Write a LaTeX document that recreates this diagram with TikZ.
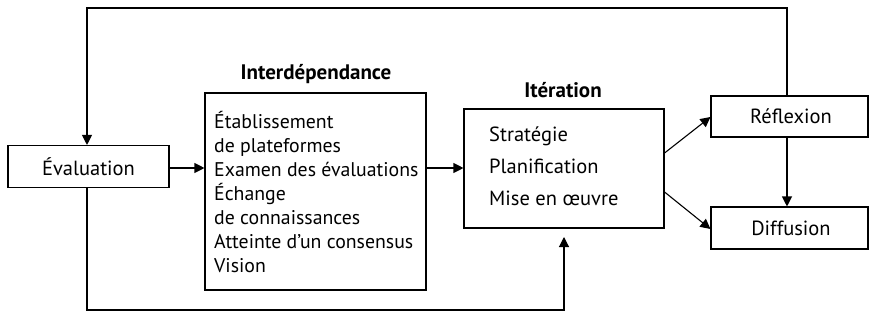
\documentclass[tikz,border=0pt]{standalone}
\usepackage{fontspec}
\setmainfont{PT Sans}
\usetikzlibrary{arrows.meta}
\tikzset{
  box/.style={draw, line width=1.1pt, inner sep=0pt},
  arr/.style={line width=1.1pt, -{Triangle[length=10pt,width=10pt]}},
  txt/.style={font=\fontsize{20.5}{24}\selectfont, inner sep=0pt},
  ttl/.style={font=\fontsize{21}{24}\selectfont\bfseries, inner sep=0pt}
}
\begin{document}
\begin{tikzpicture}[x=1pt,y=-1pt]
\useasboundingbox (0,0) rectangle (871,325);
% boxes
\node[box, minimum width=161pt, minimum height=42pt] (eval) at (88.5,166.5) {};
\node[txt] (evalt) at (88.5,166.5) {Évaluation};
\node[box, minimum width=221pt, minimum height=197pt] (inter) at (315.5,191.5) {};
\node[txt, anchor=north west, align=left, font=\fontsize{19.8}{24}\selectfont] (intert) at (214,111) {Établissement\\de plateformes\\Examen des évaluations\\Échange\\de connaissances\\Atteinte d'un consensus\\Vision};
\node[ttl] (intertitle) at (316,74) {Interdépendance};
\node[box, minimum width=200pt, minimum height=119pt] (iter) at (564,168.5) {};
\node[txt, anchor=north west, align=left, font=\fontsize{20.5}{32}\selectfont] (itert) at (489,127) {Stratégie\\Planification\\Mise en œuvre};
\node[ttl] (itertitle) at (563,90) {Itération};
\node[box, minimum width=157pt, minimum height=41pt] (refl) at (789.5,116.5) {};
\node[txt] (reflt) at (791,116.5) {Réflexion};
\node[box, minimum width=157pt, minimum height=42pt] (diff) at (789.5,228) {};
\node[txt] (difft) at (791,228) {Diffusion};
% coordinates
\coordinate (tr) at (787,8);
\coordinate (tl) at (87,8);
\coordinate (bl) at (87,310);
\coordinate (br) at (564,310);
\coordinate (bend) at (564,237);
\coordinate (ha) at (0,168);
% connectors
\draw[arr] (eval.east |- ha) -- (inter.west |- ha);
\draw[arr] (inter.east |- ha) -- (iter.west |- ha);
\draw[arr] (iter.east |- 0,153) -- (refl.west |- 0,117);
\draw[arr] (iter.east |- 0,192) -- (diff.west |- 0,229);
\draw[arr] (refl.south -| tr) -- (diff.north -| tr);
\draw[arr] (refl.north -| tr) -- (tr) -- (tl) -- (eval.north -| tl);
\draw[arr] (eval.south -| bl) -- (bl) -- (br) -- (bend);
\end{tikzpicture}
\end{document}
